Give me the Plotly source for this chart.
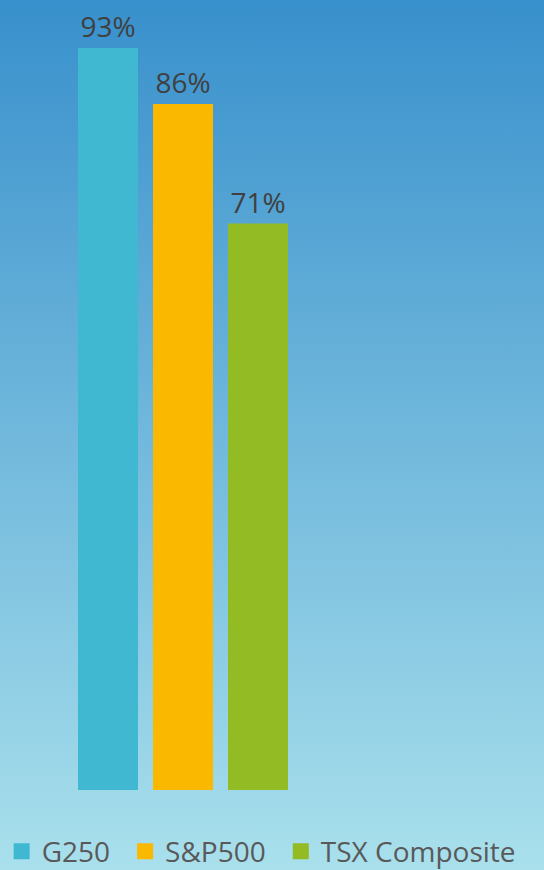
import base64
import plotly.graph_objects as go

# ----------------------------
# Data
# ----------------------------
indices = ["G250", "S&P500", "TSX Composite"]
shares = [93, 86, 71]
bar_colors = ["#41b8d2", "#fbb800", "#93bb23"]

# ----------------------------
# Background gradient (SVG data URI)
# ----------------------------
svg = (
    '<svg xmlns="http://www.w3.org/2000/svg" width="544" height="870" '
    'preserveAspectRatio="none">'
    '<defs><linearGradient id="g" x1="0" y1="0" x2="0" y2="1">'
    '<stop offset="0" stop-color="#3890cc"/>'
    '<stop offset="1" stop-color="#a9e0ec"/>'
    '</linearGradient></defs>'
    '<rect width="544" height="870" fill="url(#g)"/></svg>'
)
bg_src = "data:image/svg+xml;base64," + base64.b64encode(svg.encode()).decode()

fig = go.Figure()

# bars (legend handled by square proxies below)
for name, val, col in zip(indices, shares, bar_colors):
    fig.add_trace(
        go.Bar(
            x=[name],
            y=[val],
            name=name,
            marker=dict(color=col, line=dict(width=0)),
            width=0.8,
            text=[f"{val}%"],
            textposition="outside",
            cliponaxis=False,
            textfont=dict(size=28, color="#404040"),
            hoverinfo="skip",
            showlegend=False,
        )
    )

# legend entries with bigger square swatches
for name, col in zip(indices, bar_colors):
    fig.add_trace(
        go.Scatter(
            x=[None],
            y=[None],
            mode="markers",
            name=name + "\u00a0\u200a",
            marker=dict(symbol="square", size=16, color=col),
            hoverinfo="skip",
        )
    )

fig.update_layout(
    width=544,
    height=870,
    margin=dict(l=0, r=0, t=0, b=80, autoexpand=False),
    barmode="overlay",
    paper_bgcolor="#a9e0ec",
    plot_bgcolor="rgba(0,0,0,0)",
    font=dict(family="Open Sans", color="#595959"),
    showlegend=True,
    legend=dict(
        orientation="h",
        x=0.003,
        xanchor="left",
        y=-0.078,
        yanchor="middle",
        font=dict(size=28, color="#595959"),
        bgcolor="rgba(0,0,0,0)",
        itemclick=False,
    ),
    xaxis=dict(
        range=[-1.44, 5.813],
        showticklabels=False,
        showgrid=False,
        zeroline=False,
        fixedrange=True,
    ),
    yaxis=dict(
        range=[0, 99.02],
        showticklabels=False,
        showgrid=False,
        zeroline=False,
        fixedrange=True,
    ),
    images=[
        dict(
            source=bg_src,
            xref="paper",
            yref="paper",
            x=0,
            y=1,
            sizex=1,
            sizey=870 / 790,
            xanchor="left",
            yanchor="top",
            sizing="stretch",
            layer="below",
        )
    ],
)

fig.write_html(
    "out.html",
    config={"displayModeBar": False},
    post_script="document.body.style.margin='0';",
)
